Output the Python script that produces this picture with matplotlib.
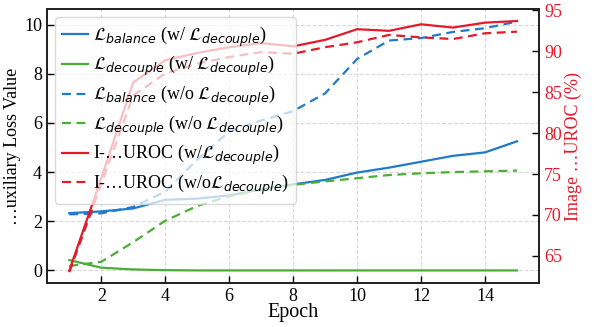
import matplotlib
matplotlib.use("Agg")
import matplotlib.pyplot as plt

plt.rcParams['font.family'] = ['Liberation Serif', 'DejaVu Serif']
plt.rcParams['mathtext.fontset'] = 'dejavusans'
plt.rcParams['font.size'] = 13

# data
epochs = list(range(1, 16))
bal_w = [2.33, 2.40, 2.52, 2.87, 2.92, 3.05, 3.30, 3.50, 3.68, 3.98, 4.18, 4.42, 4.66, 4.80, 5.25]
dec_w = [0.42, 0.11, 0.04, 0.01, 0.0, 0.0, 0.0, 0.0, 0.0, 0.0, 0.0, 0.0, 0.0, 0.0, 0.0]
bal_wo = [2.28, 2.32, 2.58, 3.20, 4.50, 5.65, 6.10, 6.48, 7.20, 8.60, 9.35, 9.45, 9.70, 9.85, 10.12]
dec_wo = [0.18, 0.35, 1.15, 2.02, 2.62, 3.02, 3.28, 3.48, 3.62, 3.75, 3.88, 3.95, 4.00, 4.03, 4.06]
auroc_w = [63.2, 74.5, 86.2, 88.9, 89.8, 90.5, 91.0, 90.6, 91.4, 92.7, 92.5, 93.3, 92.9, 93.5, 93.7]
auroc_wo = [63.0, 73.8, 84.6, 87.3, 88.5, 89.3, 89.9, 89.7, 90.5, 91.1, 92.0, 91.7, 91.5, 92.2, 92.4]

blue = '#1f7bc9'
green = '#4aad34'
red = '#e31a2c'

fig, ax = plt.subplots(figsize=(5.94, 3.27), dpi=100)
fig.subplots_adjust(left=0.079, right=0.908, bottom=0.135, top=0.972)
ax2 = ax.twinx()

lw = 1.6
dash = (4, 2.5)
l1, = ax.plot(epochs, bal_w, color=blue, lw=lw,
              label=r'$\mathcal{L}_{balance}$ (w/ $\mathcal{L}_{decouple}$)')
l2, = ax.plot(epochs, dec_w, color=green, lw=lw,
              label=r'$\mathcal{L}_{decouple}$ (w/ $\mathcal{L}_{decouple}$)')
l3, = ax.plot(epochs, bal_wo, color=blue, lw=lw, ls='--', dashes=dash,
              label=r'$\mathcal{L}_{balance}$ (w/o $\mathcal{L}_{decouple}$)')
l4, = ax.plot(epochs, dec_wo, color=green, lw=lw, ls='--', dashes=dash,
              label=r'$\mathcal{L}_{decouple}$ (w/o $\mathcal{L}_{decouple}$)')
l5, = ax2.plot(epochs, auroc_w, color=red, lw=lw,
               label=r'I-…UROC (w/$\mathcal{L}_{decouple}$)')
l6, = ax2.plot(epochs, auroc_wo, color=red, lw=lw, ls='--', dashes=dash,
               label=r'I-…UROC (w/o$\mathcal{L}_{decouple}$)')

ax.set_xticks([2, 4, 6, 8, 10, 12, 14])
ax.set_yticks([0, 2, 4, 6, 8, 10])
ax2.set_yticks([65, 70, 75, 80, 85, 90, 95])
ax2.set_ylim(61.7, 95.15)
ax.grid(True, ls='--', color='#d9d9d9', lw=0.8)
ax.set_axisbelow(True)

ax.tick_params(direction='in', length=5, width=1)
ax2.tick_params(direction='in', length=5, width=1, labelcolor=red)
for a in (ax, ax2):
    for s in a.spines.values():
        s.set_linewidth(1.3)
        s.set_color('#222222')

ax.set_xlabel('Epoch', fontsize=14.5, labelpad=-1)
ax.set_ylabel('…uxiliary Loss Value', labelpad=2)
ax2.set_ylabel('Image …UROC (%)', color=red, labelpad=2)

ax2.legend(handles=[l1, l2, l3, l4, l5, l6], loc='upper left',
           fontsize=13.0, handlelength=1.4, handletextpad=0.3,
           labelspacing=0.3, borderpad=0.4, borderaxespad=0.45,
           framealpha=0.72, edgecolor='#cccccc')

fig.savefig('out.png')
